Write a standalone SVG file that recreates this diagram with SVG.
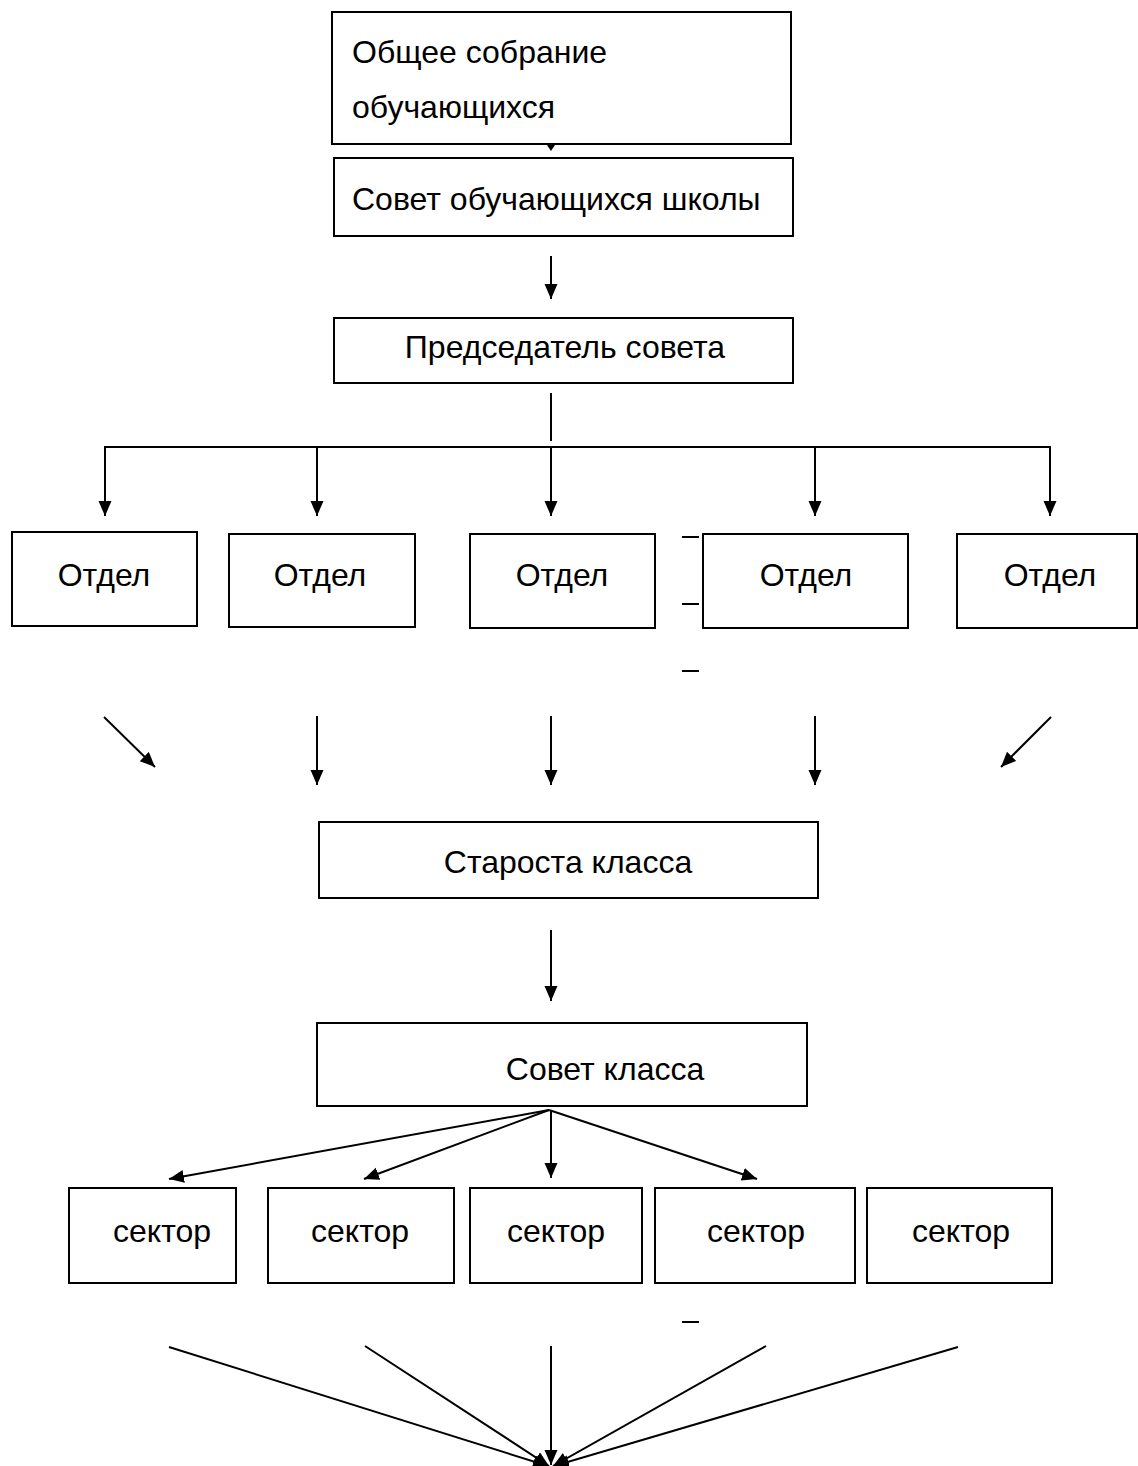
<svg xmlns="http://www.w3.org/2000/svg" width="1138" height="1466" viewBox="0 0 1138 1466">
<defs>
<style>
.box{fill:#fff;stroke:#000;stroke-width:2}
.t{font-family:"Liberation Sans",Arial,sans-serif;font-size:32px;fill:#000}
.c{text-anchor:middle}
.ln{stroke:#000;stroke-width:2;fill:none}
.ar{stroke:#000;stroke-width:2;fill:none;marker-end:url(#ah)}
</style>
<marker id="ah" markerUnits="userSpaceOnUse" markerWidth="16" markerHeight="14" refX="15" refY="6.5" orient="auto">
<path d="M0,0 L15,6.5 L0,13 z" fill="#000"/>
</marker>
</defs>
<rect width="1138" height="1466" fill="#fff"/>
<g id="connectors">
<polygon points="547,145 555,145 551,151" fill="#000"/>
<line class="ar" x1="551" y1="256" x2="551" y2="299"/>
<line class="ln" x1="551" y1="393" x2="551" y2="441"/>
<line class="ln" x1="104" y1="447" x2="1051" y2="447"/>
<line class="ar" x1="105" y1="447" x2="105" y2="516"/>
<line class="ar" x1="317" y1="447" x2="317" y2="516"/>
<line class="ar" x1="551" y1="447" x2="551" y2="516"/>
<line class="ar" x1="815" y1="447" x2="815" y2="516"/>
<line class="ar" x1="1050" y1="447" x2="1050" y2="516"/>
<line class="ln" x1="682" y1="537" x2="699" y2="537"/>
<line class="ln" x1="682" y1="604" x2="699" y2="604"/>
<line class="ln" x1="682" y1="671" x2="699" y2="671"/>
<line class="ar" x1="104" y1="717" x2="155" y2="767"/>
<line class="ar" x1="317" y1="716" x2="317" y2="785"/>
<line class="ar" x1="551" y1="716" x2="551" y2="785"/>
<line class="ar" x1="815" y1="716" x2="815" y2="785"/>
<line class="ar" x1="1051" y1="717" x2="1001" y2="767"/>
<line class="ar" x1="551" y1="930" x2="551" y2="1001"/>
<line class="ar" x1="549" y1="1110" x2="169" y2="1179"/>
<line class="ar" x1="549" y1="1110" x2="364" y2="1179"/>
<line class="ar" x1="551" y1="1110" x2="551" y2="1178"/>
<line class="ar" x1="549" y1="1110" x2="757" y2="1179"/>
<line class="ln" x1="682" y1="1322" x2="699" y2="1322"/>
<line class="ar" x1="169" y1="1347" x2="548" y2="1466"/>
<line class="ar" x1="365" y1="1346" x2="549" y2="1466"/>
<line class="ar" x1="551" y1="1346" x2="551" y2="1465"/>
<line class="ar" x1="766" y1="1346" x2="553" y2="1466"/>
<line class="ar" x1="958" y1="1347" x2="554" y2="1466"/>
</g>
<g id="n-obshchee">
<rect class="box" x="332" y="12" width="459" height="132"/>
<text class="t" x="352" y="63">Общее собрание</text>
<text class="t" x="352" y="118">обучающихся</text>
</g>
<g id="n-sovet-shkoly">
<rect class="box" x="334" y="158" width="459" height="78"/>
<text class="t" x="352" y="210">Совет обучающихся школы</text>
</g>
<g id="n-predsedatel">
<rect class="box" x="334" y="318" width="459" height="65"/>
<text class="t c" x="565" y="358">Председатель совета</text>
</g>
<g id="n-otdel-1">
<rect class="box" x="12" y="532" width="185" height="94"/>
<text class="t c" x="104" y="586">Отдел</text>
</g>
<g id="n-otdel-2">
<rect class="box" x="229" y="534" width="186" height="93"/>
<text class="t c" x="320" y="586">Отдел</text>
</g>
<g id="n-otdel-3">
<rect class="box" x="470" y="534" width="185" height="94"/>
<text class="t c" x="562" y="586">Отдел</text>
</g>
<g id="n-otdel-4">
<rect class="box" x="703" y="534" width="205" height="94"/>
<text class="t c" x="806" y="586">Отдел</text>
</g>
<g id="n-otdel-5">
<rect class="box" x="957" y="534" width="180" height="94"/>
<text class="t c" x="1050" y="586">Отдел</text>
</g>
<g id="n-starosta">
<rect class="box" x="319" y="822" width="499" height="76"/>
<text class="t c" x="568" y="873">Староста класса</text>
</g>
<g id="n-sovet-klassa">
<rect class="box" x="317" y="1023" width="490" height="83"/>
<text class="t c" x="605" y="1080">Совет класса</text>
</g>
<g id="n-sektor-1">
<rect class="box" x="69" y="1188" width="167" height="95"/>
<text class="t c" x="162" y="1242">сектор</text>
</g>
<g id="n-sektor-2">
<rect class="box" x="268" y="1188" width="186" height="95"/>
<text class="t c" x="360" y="1242">сектор</text>
</g>
<g id="n-sektor-3">
<rect class="box" x="470" y="1188" width="172" height="95"/>
<text class="t c" x="556" y="1242">сектор</text>
</g>
<g id="n-sektor-4">
<rect class="box" x="655" y="1188" width="200" height="95"/>
<text class="t c" x="756" y="1242">сектор</text>
</g>
<g id="n-sektor-5">
<rect class="box" x="867" y="1188" width="185" height="95"/>
<text class="t c" x="961" y="1242">сектор</text>
</g>
</svg>
